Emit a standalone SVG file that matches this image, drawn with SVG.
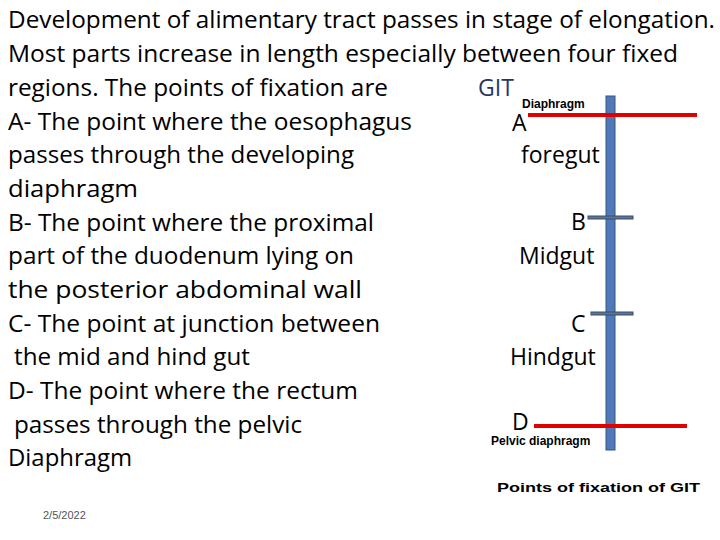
<svg xmlns="http://www.w3.org/2000/svg" width="720" height="540" viewBox="0 0 720 540">
<style>
.t{font-family:"Open Sans","Liberation Sans",sans-serif;font-size:23px;fill:#000}
.s{font-family:"Liberation Sans",Arial,sans-serif;font-weight:bold;font-size:12px;fill:#000}
.red{stroke:#e00000;stroke-width:4}
.tick{fill:#5a7494;stroke:#3a4f6a;stroke-width:1}
</style>
<rect width="720" height="540" fill="#fff"/>
<g id="text">
<text class="t" x="8" y="28" textLength="707" lengthAdjust="spacingAndGlyphs">Development of alimentary tract passes in stage of elongation.</text>
<text class="t" x="8" y="62" textLength="670" lengthAdjust="spacingAndGlyphs">Most parts increase in length especially between four fixed</text>
<text class="t" x="8" y="96" textLength="380" lengthAdjust="spacingAndGlyphs">regions. The points of fixation are</text>
<text class="t" x="8" y="130" textLength="404" lengthAdjust="spacingAndGlyphs">A- The point where the oesophagus</text>
<text class="t" x="8" y="163" textLength="346" lengthAdjust="spacingAndGlyphs">passes through the developing</text>
<text class="t" x="8" y="197" textLength="130" lengthAdjust="spacingAndGlyphs">diaphragm</text>
<text class="t" x="8" y="231" textLength="366" lengthAdjust="spacingAndGlyphs">B- The point where the proximal</text>
<text class="t" x="8" y="264" textLength="346" lengthAdjust="spacingAndGlyphs">part of the duodenum lying on</text>
<text class="t" x="8" y="298" textLength="354" lengthAdjust="spacingAndGlyphs">the posterior abdominal wall</text>
<text class="t" x="8" y="332" textLength="372" lengthAdjust="spacingAndGlyphs">C- The point at junction between</text>
<text class="t" x="14" y="365" textLength="236" lengthAdjust="spacingAndGlyphs">the mid and hind gut</text>
<text class="t" x="8" y="399" textLength="350" lengthAdjust="spacingAndGlyphs">D- The point where the rectum</text>
<text class="t" x="14" y="433" textLength="288" lengthAdjust="spacingAndGlyphs">passes through the pelvic</text>
<text class="t" x="8" y="466" textLength="124" lengthAdjust="spacingAndGlyphs">Diaphragm</text>
<text x="43" y="519" font-family="Liberation Sans,Arial,sans-serif" font-size="11" fill="#555">2/5/2022</text>
</g>
<g id="gut">
<rect x="606" y="96" width="9" height="354" fill="#4f79b8" stroke="#36577f" stroke-width="1"/>
</g>
<g id="connectors">
<line class="red" x1="528" y1="115" x2="697" y2="115"/>
<line class="red" x1="534" y1="426" x2="687" y2="426"/>
<rect class="tick" x="588" y="216" width="45" height="3"/>
<rect class="tick" x="591" y="312" width="42" height="3"/>
</g>
<g id="labels">
<text class="t" x="478" y="96" font-size="24" style="fill:#1f3864">GIT</text>
<text class="s" x="522" y="108" font-size="11">Diaphragm</text>
<text class="t" x="512" y="131">A</text>
<text class="t" x="521" y="163">foregut</text>
<text class="t" x="571" y="230">B</text>
<text class="t" x="519" y="264">Midgut</text>
<text class="t" x="571" y="332">C</text>
<text class="t" x="510" y="365">Hindgut</text>
<text class="t" x="512" y="430">D</text>
<text class="s" x="491" y="445" font-size="11">Pelvic diaphragm</text>
<text class="s" x="497" y="492" font-size="16" textLength="203" lengthAdjust="spacingAndGlyphs">Points of fixation of GIT</text>
</g>
</svg>
